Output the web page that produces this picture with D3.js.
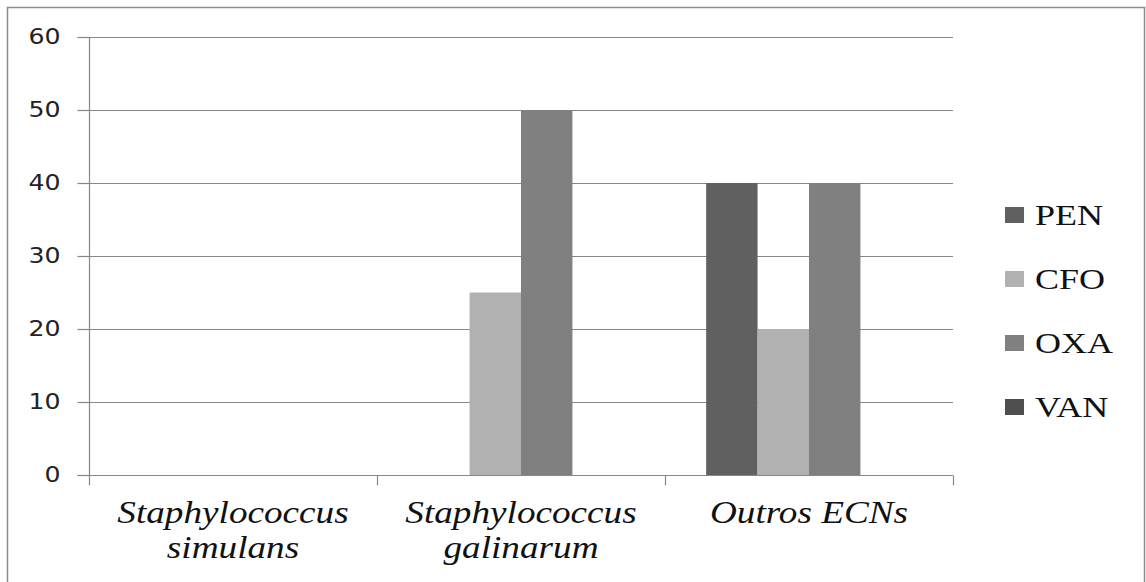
<!DOCTYPE html>
<html>
<head>
<meta charset="utf-8">
<script src="https://cdn.jsdelivr.net/npm/d3@7/dist/d3.min.js"></script>
<style>
  html, body { margin: 0; padding: 0; background: #fff; }
  svg { display: block; }
</style>
</head>
<body>
<svg id="chart" width="1146" height="582"></svg>
<script>
// Resistance rates (%) per species group and antibiotic
const categories = [["Staphylococcus", "simulans"], ["Staphylococcus", "galinarum"], ["Outros ECNs"]];
const seriesNames = ["PEN", "CFO", "OXA", "VAN"];
const penValues = [0, 0, 40];
const cfoValues = [0, 25, 20];
const oxaValues = [0, 50, 40];
const vanValues = [0, 0, 0];
const yTicks = [0, 10, 20, 30, 40, 50, 60];
const seriesColors = ["#606060", "#b1b1b1", "#808080", "#4f4f4f"];

const values = [penValues, cfoValues, oxaValues, vanValues];

const svg = d3.select("#chart");
const W = 1146, H = 582;
const plot = { left: 89, right: 953, top: 37, bottom: 475 };
const stretch = 1.2;   // wide-set lettering used throughout
const serif = "'Liberation Serif', 'Times New Roman', serif";
const gridColor = "#878787";

// outer frame (bottom edge runs off the canvas)
svg.append("path")
  .attr("d", `M7.5,${H} V7.5 H1144.5 V${H}`)
  .attr("fill", "none").attr("stroke", "#8c8c8c").attr("stroke-width", 1.5);

const x0 = d3.scaleBand().domain(d3.range(categories.length))
  .range([plot.left, plot.right]).paddingInner(0).paddingOuter(0);
const x1 = d3.scaleBand().domain(seriesNames)
  .range([0, x0.bandwidth()]).paddingOuter(0.8).paddingInner(0);
const y = d3.scaleLinear().domain([0, 60]).range([plot.bottom, plot.top]);

// horizontal gridlines
svg.append("g").selectAll("line").data(yTicks.filter(d => d > 0)).join("line")
  .attr("x1", plot.left).attr("x2", plot.right)
  .attr("y1", d => Math.round(y(d)) + 0.5).attr("y2", d => Math.round(y(d)) + 0.5)
  .attr("stroke", gridColor).attr("stroke-width", 1.2);

// bars
const groups = svg.append("g").selectAll("g").data(categories.map((c, i) => i)).join("g")
  .attr("transform", i => `translate(${x0(i)},0)`);
groups.selectAll("rect")
  .data(i => seriesNames.map((s, k) => ({ s, k, v: values[k][i] })))
  .join("rect")
  .attr("x", d => x1(d.s))
  .attr("width", x1.bandwidth())
  .attr("y", d => y(d.v))
  .attr("height", d => y(0) - y(d.v))
  .attr("fill", d => seriesColors[d.k]);

// y axis
const yAxis = svg.append("g").attr("transform", `translate(${plot.left + 0.5},0)`)
  .call(d3.axisLeft(y).tickValues(yTicks).tickSize(12).tickPadding(17).tickFormat(d3.format("d")));
yAxis.select(".domain").attr("stroke", gridColor).attr("stroke-width", 1.2)
  .attr("d", `M-12,${plot.top + 0.5}H0V${plot.bottom + 0.5}H-12`);
yAxis.selectAll(".tick line").attr("stroke", gridColor).attr("stroke-width", 1.2);
yAxis.selectAll(".tick text")
  .attr("x", -29 / stretch)
  .attr("transform", `scale(${stretch},1)`)
  .attr("font-family", "'DejaVu Sans', sans-serif").attr("font-size", 21).attr("fill", "#222");

// x axis
const xAxis = svg.append("g").attr("transform", `translate(0,${plot.bottom + 0.5})`);
xAxis.append("line").attr("x1", plot.left).attr("x2", plot.right)
  .attr("stroke", gridColor).attr("stroke-width", 1.2);
const edges = d3.range(categories.length + 1).map(i => plot.left + i * x0.bandwidth());
xAxis.selectAll("line.tick").data(edges).join("line").attr("class", "tick")
  .attr("x1", d => Math.round(d) + 0.5).attr("x2", d => Math.round(d) + 0.5)
  .attr("y1", 0).attr("y2", 10)
  .attr("stroke", gridColor).attr("stroke-width", 1.2);

const labels = xAxis.selectAll("text").data(categories).join("text")
  .attr("transform", (d, i) => `translate(${x0(i) + x0.bandwidth() / 2},0) scale(${stretch},1)`)
  .attr("text-anchor", "middle")
  .attr("font-family", serif)
  .attr("font-style", "italic").attr("font-size", 31).attr("fill", "#111");
labels.selectAll("tspan").data(d => d).join("tspan")
  .attr("x", 0).attr("y", (d, j) => 48 + j * 35).text(d => d);

// legend
const legend = svg.append("g").selectAll("g").data(seriesNames).join("g")
  .attr("transform", (d, i) => `translate(1005,${215 + i * 64})`);
legend.append("rect").attr("x", 0).attr("y", -8).attr("width", 19).attr("height", 16)
  .attr("fill", (d, i) => seriesColors[i]);
legend.append("text")
  .attr("transform", `translate(30,10) scale(${stretch},1)`)
  .attr("font-family", serif)
  .attr("font-size", 30).attr("fill", "#111").text(d => d);
</script>
</body>
</html>
